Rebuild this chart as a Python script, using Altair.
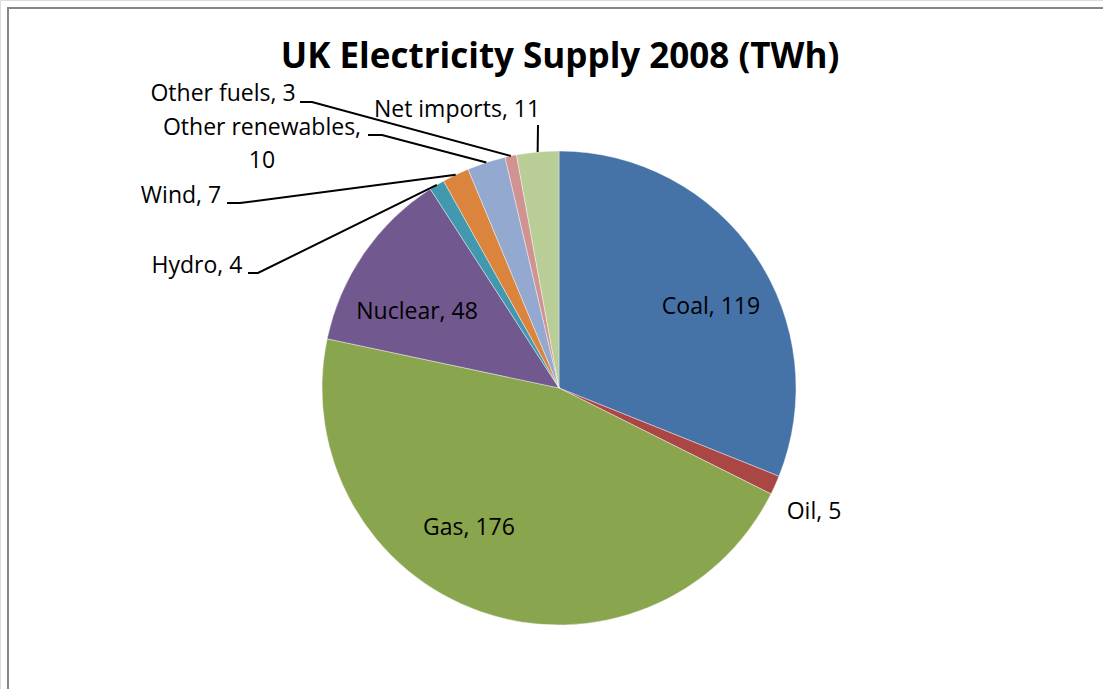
import math
import altair as alt
import pandas as pd

# ---- data ----
categories = ["Coal", "Oil", "Gas", "Nuclear", "Hydro", "Wind",
              "Other renewables", "Other fuels", "Net imports"]
values = [119, 5, 176, 48, 4, 7, 10, 3, 11]
colors = ["#4572A7", "#AA4643", "#89A54E", "#71588F", "#4198AF",
          "#DB843D", "#93A9CF", "#D19392", "#B9CD96"]
title_text = "UK Electricity Supply 2008 (TWh)"

# ---- layout (styles / positions, not data) ----
W, H = 1103, 689
CX, CY, R = 559, 388, 237
FONT = "Open Sans"
# label centre x, baseline y
label_pos = {
    "Coal": (711, 314),
    "Oil": (814, 519),
    "Gas": (469, 535),
    "Nuclear": (417, 319),
    "Hydro": (197, 273),
    "Wind": (181, 203),
    "Other renewables": (262, 135),
    "Other fuels": (223, 101),
    "Net imports": (457, 117),
}
# leader line anchors: (label end), (elbow)
leaders = {
    "Hydro": [(248, 273), (258, 273)],
    "Wind": [(227, 203), (240, 203)],
    "Other renewables": [(368, 135), (382, 135)],
    "Other fuels": [(300, 102), (312, 102)],
    "Net imports": [(538, 125)],
}

df = pd.DataFrame({"category": categories, "value": values,
                   "order": list(range(len(categories)))})

total = sum(values)
cum = 0
mid = {}
for c, v in zip(categories, values):
    mid[c] = (cum + v / 2) / total * 2 * math.pi
    cum += v

lab_rows = []
for c, v in zip(categories, values):
    x, y = label_pos[c]
    txt = f"{c}, {v}" if c != "Other renewables" else f"{c},\n{v}"
    lab_rows.append({"x": x, "y": y, "t": txt})
lab_df = pd.DataFrame(lab_rows)

line_rows = []
for c, pts in leaders.items():
    a = mid[c]
    ex = CX + R * math.sin(a)
    ey = CY - R * math.cos(a)
    seq = pts + [(ex, ey)]
    for i, (x, y) in enumerate(seq):
        line_rows.append({"cat": c, "i": i, "x": x, "y": y})
line_df = pd.DataFrame(line_rows)

xs = alt.Scale(domain=[0, W], range=[0, W])
ys = alt.Scale(domain=[0, H], range=[0, H])

frame = alt.Chart(pd.DataFrame({"a": [0]})).mark_rect(
    fill="white", stroke="#868686", strokeWidth=2
).encode(x=alt.value(8), y=alt.value(8), x2=alt.value(W + 20), y2=alt.value(H + 20))

pie = alt.Chart(df).mark_arc(outerRadius=R, stroke="white", strokeWidth=0.4).encode(
    theta=alt.Theta("value:Q", stack=True),
    order=alt.Order("order:Q"),
    color=alt.Color("category:N", scale=alt.Scale(domain=categories, range=colors), legend=None),
    x=alt.value(CX), y=alt.value(CY),
)

lines = alt.Chart(line_df).mark_line(color="black", strokeWidth=2).encode(
    x=alt.X("x:Q", scale=xs, axis=None),
    y=alt.Y("y:Q", scale=ys, axis=None),
    detail="cat:N",
    order="i:Q",
)

labels = alt.Chart(lab_df).mark_text(
    font=FONT, fontSize=23, color="black", align="center", baseline="alphabetic",
    lineBreak="\n", lineHeight=33
).encode(
    x=alt.X("x:Q", scale=xs, axis=None),
    y=alt.Y("y:Q", scale=ys, axis=None),
    text="t:N",
)

title = alt.Chart(pd.DataFrame({"t": [title_text]})).mark_text(
    font=FONT, fontSize=35, fontWeight="bold", color="black",
    align="center", baseline="alphabetic"
).encode(x=alt.value(560), y=alt.value(68), text="t:N")

chart = alt.layer(frame, pie, lines, labels, title).properties(
    width=W, height=H, padding=0, autosize=alt.AutoSizeParams(type="none")
).configure_view(stroke=None).configure(background="white")

chart.save("out.html", embed_options={"renderer": "svg", "actions": False})
